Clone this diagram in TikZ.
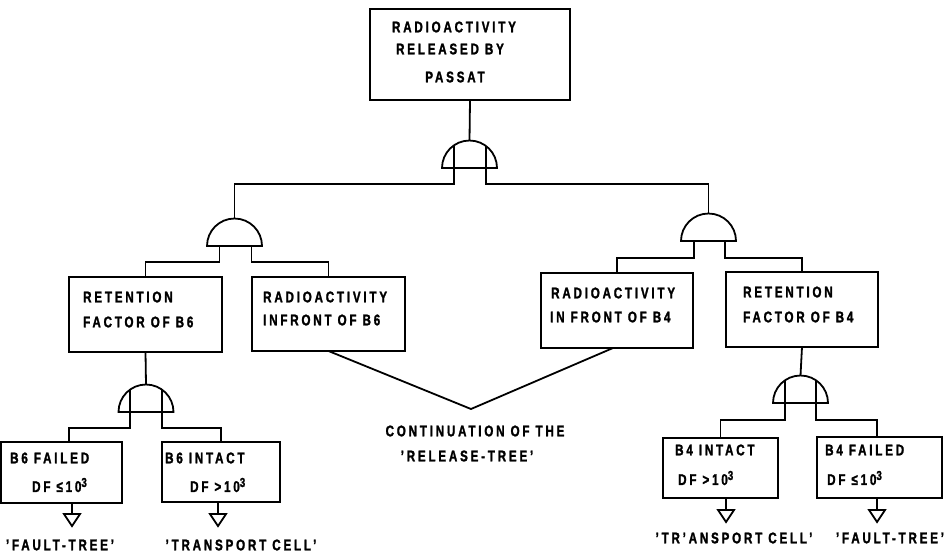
\documentclass[tikz,border=0pt]{standalone}
\usepackage{fontspec}
\setmainfont{Liberation Sans}[FakeStretch=0.75,LetterSpace=18,BoldFeatures={FakeBold=1.5}]
\usetikzlibrary{shapes.geometric,calc}
\tikzset{
  ln/.style={line width=1.8pt},
  fbox/.style={draw, ln, rectangle, inner sep=0pt, outer sep=0pt, anchor=north west},
  gate/.style={draw, ln, semicircle, inner sep=0pt, outer sep=0pt, minimum width=55pt, minimum height=27.5pt, anchor=chord center},
  txt/.style={font=\bfseries\fontsize{15.5}{15.5}\selectfont, inner sep=0pt, anchor=west},
  ctxt/.style={font=\bfseries\fontsize{15.5}{15.5}\selectfont, inner sep=0pt, anchor=center},
}
\newcommand\supthree{\raisebox{5pt}{\fontsize{13}{13}\selectfont 3}}
\begin{document}
\begin{tikzpicture}[x=1pt,y=-1pt]
\useasboundingbox (0,0) rectangle (952,558);
% boxes
\node[fbox, minimum width=200pt, minimum height=91pt] (top) at (370,9) {};
\node[fbox, minimum width=153pt, minimum height=75pt] (ret6) at (69,277) {};
\node[fbox, minimum width=153pt, minimum height=74pt] (rad6) at (252,277) {};
\node[fbox, minimum width=152pt, minimum height=75pt] (rad4) at (541,273) {};
\node[fbox, minimum width=152pt, minimum height=75pt] (ret4) at (726,272) {};
\node[fbox, minimum width=121pt, minimum height=61pt] (f6) at (1,442) {};
\node[fbox, minimum width=118pt, minimum height=60pt] (i6) at (162,442) {};
\node[fbox, minimum width=115pt, minimum height=60pt] (i4) at (663,438) {};
\node[fbox, minimum width=125pt, minimum height=61pt] (f4) at (817,437) {};
% texts
\node[ctxt] (tt1) at (454,27) {RADIOACTIVITY};
\node[ctxt] (tt2) at (450,49) {RELEASED BY};
\node[ctxt] (tt3) at (455,77) {PASSAT};
\node[txt] (r6a) at (83,297) {RETENTION};
\node[txt] (r6b) at (83,322) {FACTOR OF B6};
\node[txt] (a6a) at (263,297) {RADIOACTIVITY};
\node[txt] (a6b) at (263,320) {INFRONT OF B6};
\node[txt] (a4a) at (551,293) {RADIOACTIVITY};
\node[txt] (a4b) at (550,317) {IN FRONT OF B4};
\node[txt] (r4a) at (743,292) {RETENTION};
\node[txt] (r4b) at (743,317) {FACTOR OF B4};
\node[txt] (f6a) at (10,458) {B6 FAILED};
\node[txt] (f6b) at (32,485) {DF ≤10\supthree};
\node[txt] (i6a) at (165,458) {B6 INTACT};
\node[txt] (i6b) at (190,485) {DF >10\supthree};
\node[txt] (i4a) at (675,450) {B4 INTACT};
\node[txt] (i4b) at (678,478) {DF >10\supthree};
\node[txt] (f4a) at (825,450) {B4 FAILED};
\node[txt] (f4b) at (827,478) {DF ≤10\supthree};
\node[ctxt] (c1) at (475,431) {CONTINUATION OF THE};
\node[ctxt] (c2) at (467,456) {'RELEASE-TREE'};
\node[ctxt] (l1) at (60,545) {'FAULT-TREE'};
\node[ctxt] (l2) at (241,545) {'TRANSPORT CELL'};
\node[ctxt] (l3) at (734,538) {'TR'ANSPORT CELL'};
\node[ctxt] (l4) at (890,538) {'FAULT-TREE'};
% gates
\node[gate] (g0) at (469.5,168) {};
\node[gate] (g1) at (234.5,246) {};
\node[gate] (g2) at (708.5,241) {};
\node[gate] (g3) at (146,412) {};
\node[gate] (g4) at (800.5,403) {};
% connectors
\draw[ln] (top.south) -- (g0.apex);
\draw[ln] ($(g0.chord center)+(-15.5,-22)$) -- ($(g0.chord center)+(-15.5,16)$) -| (g1.apex);
\draw[ln] ($(g0.chord center)+(16.5,-22)$) -- ($(g0.chord center)+(16.5,16)$) -| (g2.apex);
\draw[ln] ($(g1.chord center)+(-15,0)$) -- ($(g1.chord center)+(-15,16)$) -| (ret6.north);
\draw[ln] ($(g1.chord center)+(17,0)$) -- ($(g1.chord center)+(17,16)$) -| (rad6.north);
\draw[ln] ($(g2.chord center)+(-14.5,0)$) -- ($(g2.chord center)+(-14.5,17)$) -| (rad4.north);
\draw[ln] ($(g2.chord center)+(16.5,0)$) -- ($(g2.chord center)+(16.5,17)$) -| (ret4.north);
\draw[ln] (ret6.south) -- (g3.apex);
\draw[ln] (ret4.south) -- (g4.apex);
\draw[ln] ($(g3.chord center)+(-16,-22)$) -- ($(g3.chord center)+(-16,16)$) -| ($(f6.north)+(7.5,0)$);
\draw[ln] ($(g3.chord center)+(16,-22)$) -- ($(g3.chord center)+(16,16)$) -| (i6.north);
\draw[ln] ($(g4.chord center)+(-15.5,-22)$) -- ($(g4.chord center)+(-15.5,17)$) -| (i4.north);
\draw[ln] ($(g4.chord center)+(15.5,-22)$) -- ($(g4.chord center)+(15.5,17)$) -| ($(f4.north)+(-2.5,0)$);
% continuation V
\coordinate (cv) at (471,409);
\draw[ln] (rad6.south) -- (cv) -- ($(rad4.south)+(-4,0)$);
% transfer triangles
\coordinate (t1) at (72,514);
\coordinate (t2) at (218,514);
\coordinate (t3) at (726,510);
\coordinate (t4) at (877,510);
\foreach \t/\b in {t1/f6,t2/i6,t3/i4,t4/f4}{
  \draw[ln] (\t |- \b.south) -- (\t);
  \draw[ln, line join=miter] ($(\t)+(-8,0)$) -- ($(\t)+(8,0)$) -- ($(\t)+(0,12)$) -- cycle;
}
\end{tikzpicture}
\end{document}
